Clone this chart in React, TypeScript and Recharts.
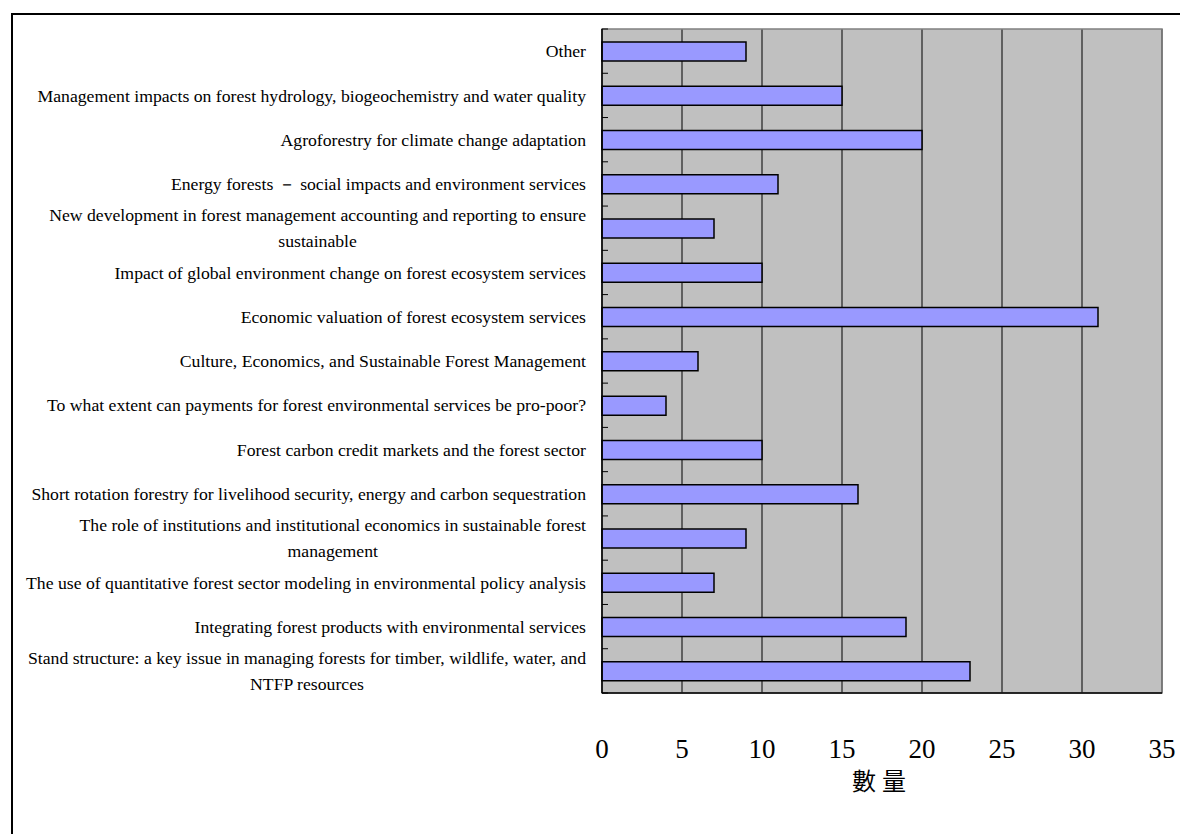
import React from 'react';
import { BarChart, Bar, XAxis, YAxis, CartesianGrid, ReferenceArea } from 'recharts';

const categories: string[] = [
  'Other',
  'Management impacts on forest hydrology, biogeochemistry and water quality',
  'Agroforestry for climate change adaptation',
  'Energy forests \uFF0D social impacts and environment services',
  'New development in forest management accounting and reporting to ensure\nsustainable',
  'Impact of global environment change on forest ecosystem services',
  'Economic valuation of forest ecosystem services',
  'Culture, Economics, and Sustainable Forest Management',
  'To what extent can payments for forest environmental services be pro-poor?',
  'Forest carbon credit markets and the forest sector ',
  'Short rotation forestry for livelihood security, energy and carbon sequestration',
  'The role of institutions and institutional economics in sustainable forest\nmanagement',
  'The use of quantitative forest sector modeling in environmental policy analysis',
  'Integrating forest products with environmental services',
  'Stand structure: a key issue in managing forests for timber, wildlife, water, and\nNTFP resources',
];

const counts: number[] = [9, 15, 20, 11, 7, 10, 31, 6, 4, 10, 16, 9, 7, 19, 23];

const xTicks: number[] = [0, 5, 10, 15, 20, 25, 30, 35];

const axisTitle = '數量';

const data = categories.map((name, i) => ({ name, value: counts[i] }));

const LABEL_FONT = "'Liberation Serif', 'DejaVu Serif', serif";
const LABEL_SIZE = 17.7;

let ctx: CanvasRenderingContext2D | null = null;
function measure(text: string): number {
  if (!ctx) {
    const c = document.createElement('canvas');
    ctx = c.getContext('2d');
  }
  if (!ctx) return text.length * 7.5;
  ctx.font = `${LABEL_SIZE}px 'Liberation Serif'`;
  return ctx.measureText(text).width;
}

const CategoryTick = (props: any) => {
  const { x, y, payload, index } = props;
  const half = payload && payload.offset ? payload.offset : 22.13;
  const lines = String(payload.value).split('\n');
  const rightX = x - 8;
  const axisX = x + (props.tickSize ?? 6) + (props.tickMargin ?? 2);
  let texts;
  if (lines.length === 1) {
    texts = (
      <text x={rightX} y={y} dy="0.35em" textAnchor="end" fontFamily={LABEL_FONT} fontSize={LABEL_SIZE} fill="#000">
        {lines[0]}
      </text>
    );
  } else {
    const w = measure(lines[0]);
    const cx = rightX - w / 2;
    texts = (
      <text textAnchor="middle" fontFamily={LABEL_FONT} fontSize={LABEL_SIZE} fill="#000">
        {lines.map((l, i) => (
          <tspan key={i} x={cx} y={y + (i - (lines.length - 1) / 2) * 26} dy="0.35em">
            {l}
          </tspan>
        ))}
      </text>
    );
  }
  return (
    <g>
      {texts}
      <line x1={axisX} x2={axisX + 6} y1={y - half} y2={y - half} stroke="#000" strokeWidth={1} />
      {index === categories.length - 1 ? (
        <line x1={axisX} x2={axisX + 6} y1={y + half} y2={y + half} stroke="#000" strokeWidth={1} />
      ) : null}
    </g>
  );
};

export default function App() {
  return (
    <div
      style={{
        position: 'fixed',
        left: 0,
        top: 0,
        width: 1180,
        height: 834,
        overflow: 'hidden',
        background: '#fff',
      }}
    >
      <div
        style={{
          position: 'absolute',
          left: 11,
          top: 13,
          width: 1300,
          height: 1000,
          border: '2px solid #000',
          boxSizing: 'border-box',
        }}
      />
      <div style={{ position: 'absolute', left: 0, top: 0 }}>
        <BarChart
          width={1180}
          height={834}
          data={data}
          layout="vertical"
          margin={{ top: 29, right: 18, bottom: 0, left: 0 }}
        >
          <CartesianGrid
            horizontal={false}
            vertical={true}
            stroke="#000"
            strokeWidth={1}
            fill="#C0C0C0"
            fillOpacity={1}
          />
          <ReferenceArea x1={0} x2={35} fill="none" stroke="#808080" strokeWidth={1.5} ifOverflow="visible" />
          <XAxis
            type="number"
            domain={[0, 35]}
            ticks={xTicks}
            interval={0}
            height={141}
            axisLine={{ stroke: '#000', strokeWidth: 1.5 }}
            tickLine={false}
            tickMargin={40}
            tick={{ fill: '#000', fontSize: 27, fontFamily: LABEL_FONT }}
            label={{
              value: axisTitle,
              position: 'insideBottom',
              offset: 44,
              fill: '#000',
              fontSize: 24,
              fontFamily: "'Noto Sans CJK TC', sans-serif",
              letterSpacing: 6,
            }}
          />
          <YAxis
            type="category"
            dataKey="name"
            width={602}
            interval={0}
            axisLine={{ stroke: '#000', strokeWidth: 1.5 }}
            tickLine={false}
            tick={<CategoryTick />}
          />
          <Bar
            dataKey="value"
            fill="#9999FF"
            stroke="#000"
            strokeWidth={1.5}
            barSize={19}
            isAnimationActive={false}
          />
        </BarChart>
      </div>
    </div>
  );
}
